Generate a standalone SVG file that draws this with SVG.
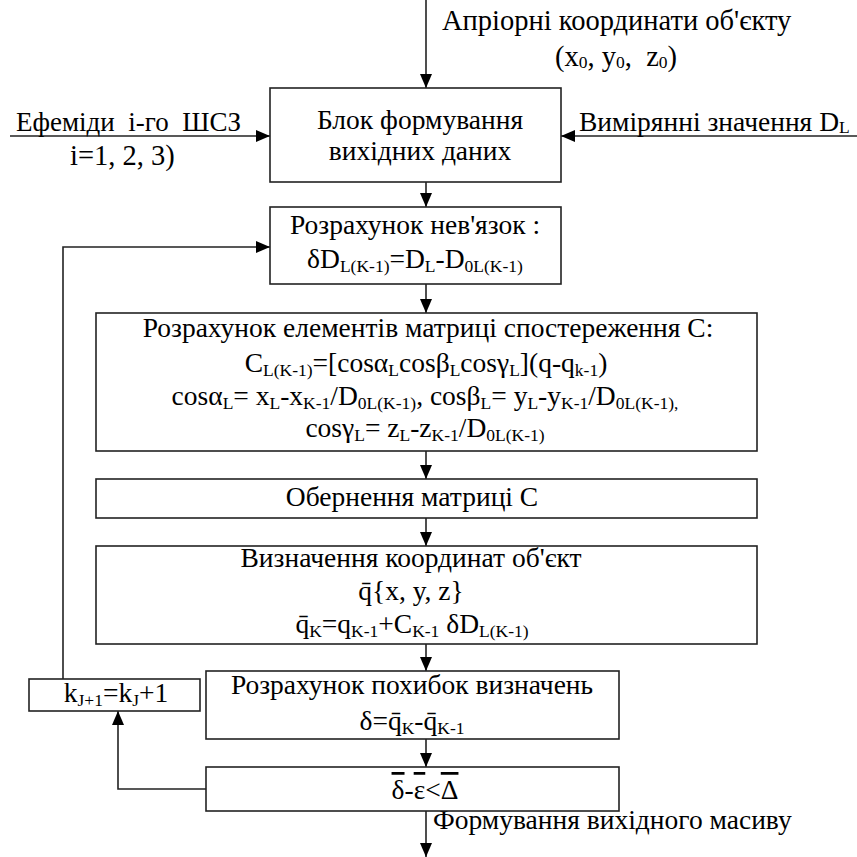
<svg xmlns="http://www.w3.org/2000/svg" width="857" height="857" viewBox="0 0 857 857" font-family="'Liberation Serif', 'Times New Roman', serif">
<defs>
<marker id="ah" markerUnits="userSpaceOnUse" markerWidth="14" markerHeight="12" refX="14" refY="6" orient="auto">
<path d="M0,0 L14,6 L0,12 Z" fill="#000"/>
</marker>
<style>
.b{fill:#fff;stroke:#222;stroke-width:1.6}
.c{fill:none;stroke:#222;stroke-width:1.6;marker-end:url(#ah)}
text{font-family:'Liberation Serif','Times New Roman',serif;font-size:27.5px;fill:#000;white-space:pre}
.e{font-size:28.5px}
.m{text-anchor:middle}
.s{font-size:17.5px}
.o{text-decoration:overline}
</style>
</defs>
<rect width="857" height="857" fill="#fff"/>
<g id="connectors">
<path class="c" d="M426,0 V88"/>
<path class="c" d="M10,136 H270"/>
<path class="c" d="M857,136 H561"/>
<path class="c" d="M426,182 V207"/>
<path class="c" d="M426,284 V313"/>
<path class="c" d="M426,451 V479"/>
<path class="c" d="M426,518 V546"/>
<path class="c" d="M426,644 V671"/>
<path class="c" d="M426,739 V767"/>
<path class="c" d="M426,811 V857"/>
<path class="c" d="M206,789 H118 V711"/>
<path class="c" d="M63,679 V247 H270"/>
</g>
<g id="labels">
<text class="e" x="442" y="30">Апріорні координати об'єкту</text>
<text class="e" x="555" y="66">(x<tspan class="s" dy="2">0</tspan><tspan dy="-2">, y</tspan><tspan class="s" dy="2">0</tspan><tspan dy="-2">,  z</tspan><tspan class="s" dy="2">0</tspan><tspan dy="-2">)</tspan></text>
<text x="16" y="131" style="font-size:27px">Ефеміди  i-го  ШСЗ</text>
<text class="e" x="70" y="165">i=1, 2, 3)</text>
<text x="579" y="131">Вимірянні значення D<tspan class="s" dy="2">L</tspan></text>
<text x="433" y="829">Формування вихідного масиву</text>
</g>
<g id="n1">
<rect class="b" x="270" y="88" width="291" height="94"/>
<text class="m" x="420" y="129">Блок формування</text>
<text class="m" x="420" y="160">вихідних даних</text>
</g>
<g id="n2">
<rect class="b" x="270" y="207" width="291" height="77"/>
<text class="m" x="415" y="234">Розрахунок нев'язок :</text>
<text class="m" x="415" y="268">δD<tspan class="s" dy="4">L(K-1)</tspan><tspan dy="-4">=D</tspan><tspan class="s" dy="4">L</tspan><tspan dy="-4">-D</tspan><tspan class="s" dy="4">0L(K-1)</tspan></text>
</g>
<g id="n3">
<rect class="b" x="96" y="313" width="661" height="138"/>
<text class="m" x="428" y="337">Розрахунок елементів матриці спостереження С:</text>
<text class="m" x="426" y="372">C<tspan class="s" dy="4">L(K-1)</tspan><tspan dy="-4">=[cosα</tspan><tspan class="s" dy="4">L</tspan><tspan dy="-4">cosβ</tspan><tspan class="s" dy="4">L</tspan><tspan dy="-4">cosγ</tspan><tspan class="s" dy="4">L</tspan><tspan dy="-4">](q-q</tspan><tspan class="s" dy="4">k-1</tspan><tspan dy="-4">)</tspan></text>
<text class="m" x="425" y="405">cosα<tspan class="s" dy="4">L</tspan><tspan dy="-4">= x</tspan><tspan class="s" dy="4">L</tspan><tspan dy="-4">-x</tspan><tspan class="s" dy="4">K-1</tspan><tspan dy="-4">/D</tspan><tspan class="s" dy="4">0L(K-1)</tspan><tspan dy="-4">, cosβ</tspan><tspan class="s" dy="4">L</tspan><tspan dy="-4">= y</tspan><tspan class="s" dy="4">L</tspan><tspan dy="-4">-y</tspan><tspan class="s" dy="4">K-1</tspan><tspan dy="-4">/D</tspan><tspan class="s" dy="4">0L(K-1),</tspan></text>
<text class="m" x="425" y="437">cosγ<tspan class="s" dy="4">L</tspan><tspan dy="-4">= z</tspan><tspan class="s" dy="4">L</tspan><tspan dy="-4">-z</tspan><tspan class="s" dy="4">K-1</tspan><tspan dy="-4">/D</tspan><tspan class="s" dy="4">0L(K-1)</tspan></text>
</g>
<g id="n4">
<rect class="b" x="96" y="479" width="661" height="39"/>
<text class="m" x="412" y="506">Обернення матриці С</text>
</g>
<g id="n5">
<rect class="b" x="96" y="546" width="661" height="98"/>
<text class="m" x="411" y="567">Визначення координат об'єкт</text>
<text class="m" x="411" y="600">q̄{x, y, z}</text>
<text class="m" x="412" y="633">q̄<tspan class="s" dy="4">K</tspan><tspan dy="-4">=q</tspan><tspan class="s" dy="4">K-1</tspan><tspan dy="-4">+C</tspan><tspan class="s" dy="4">K-1</tspan><tspan dy="-4"> δD</tspan><tspan class="s" dy="4">L(K-1)</tspan></text>
</g>
<g id="n6">
<rect class="b" x="206" y="671" width="413" height="68"/>
<text class="m" x="412" y="694">Розрахунок похибок визначень</text>
<text class="m" x="412" y="730">δ=q̄<tspan class="s" dy="4">K</tspan><tspan dy="-4">-q̄</tspan><tspan class="s" dy="4">K-1</tspan></text>
</g>
<g id="n7">
<rect class="b" x="206" y="767" width="413" height="44"/>
<text class="m" x="425" y="799"><tspan class="o">δ</tspan>-<tspan class="o">ε</tspan>&lt;<tspan class="o">Δ</tspan></text>
</g>
<g id="n8">
<rect class="b" x="29" y="679" width="171" height="32"/>
<text class="m" x="116" y="702">k<tspan class="s" dy="4">J+1</tspan><tspan dy="-4">=k</tspan><tspan class="s" dy="4">J</tspan><tspan dy="-4">+1</tspan></text>
</g>
</svg>
